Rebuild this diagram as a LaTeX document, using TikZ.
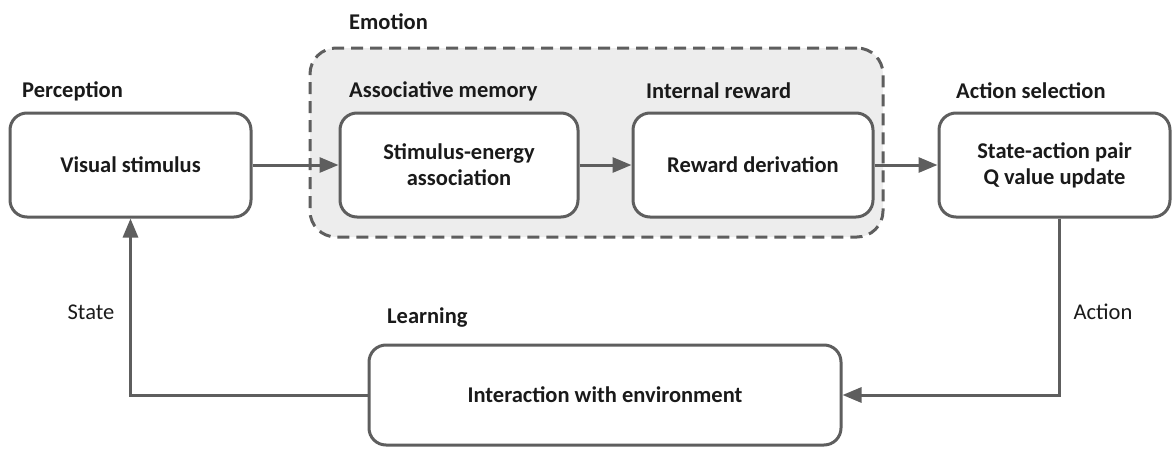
\documentclass[tikz,border=0pt]{standalone}
\usepackage{fontspec}
\setmainfont{Carlito}
\usetikzlibrary{arrows.meta,positioning,calc}
\definecolor{linegray}{HTML}{5E5E5E}
\definecolor{groupfill}{HTML}{EDEDED}
\definecolor{textcol}{HTML}{1A1A1A}
\tikzset{
  procbox/.style={draw=linegray, line width=3pt, rounded corners=17pt, fill=white, align=center, text=textcol, font=\fontsize{22.5}{26}\selectfont\bfseries, inner sep=0pt},
  grouplabel/.style={anchor=west, inner sep=0pt, text=textcol, font=\fontsize{22.5}{26}\selectfont\bfseries},
  plainlabel/.style={inner sep=0pt, text=textcol, font=\fontsize{22.5}{26}\selectfont},
  flow/.style={draw=linegray, line width=3pt, -{Triangle[length=19pt,width=15pt]}},
  groupbox/.style={draw=linegray, line width=3pt, dash pattern=on 12pt off 7pt, rounded corners=26pt, fill=groupfill}
}
\begin{document}
\begin{tikzpicture}[x=1pt,y=-1pt]
\useasboundingbox (0,0) rectangle (1173,450);
% emotion group
\node[groupbox, minimum width=573pt, minimum height=189pt, inner sep=0pt] (emo) at (596.5,142.5) {};
% boxes
\node[procbox, minimum width=241pt, minimum height=104pt] (vis) at (130.5,165) {Visual stimulus};
\node[procbox, minimum width=238pt, minimum height=104pt] (sea) at (459,165) {Stimulus-energy\\association};
\node[procbox, minimum width=240pt, minimum height=104pt] (rew) at (753,165) {Reward derivation};
\node[procbox, minimum width=231pt, minimum height=104pt] (sap) at (1054.5,165) {State-action pair\\Q value update};
\node[procbox, minimum width=472pt, minimum height=100pt] (env) at (605,395) {Interaction with environment};
% labels
\node[grouplabel] (lemo) at (349,22) {Emotion};
\node[grouplabel] (lper) at (22,91) {Perception};
\node[grouplabel] (lasm) at (349,91) {Associative memory};
\node[grouplabel] (lint) at (646,91) {Internal reward};
\node[grouplabel] (lact) at (956,91) {Action selection};
\node[grouplabel] (llrn) at (387,318) {Learning};
\node[plainlabel] (lst) at (91,312) {State};
\node[plainlabel] (lac) at (1103,312) {Action};
% connectors
\coordinate (actx) at (1059,0);
\draw[flow] (vis) -- (sea);
\draw[flow] (sea) -- (rew);
\draw[flow] (rew) -- (sap);
\draw[flow] (sap.south -| actx) |- (env.east);
\draw[flow] (env.west) -| (vis.south);
\end{tikzpicture}
\end{document}
